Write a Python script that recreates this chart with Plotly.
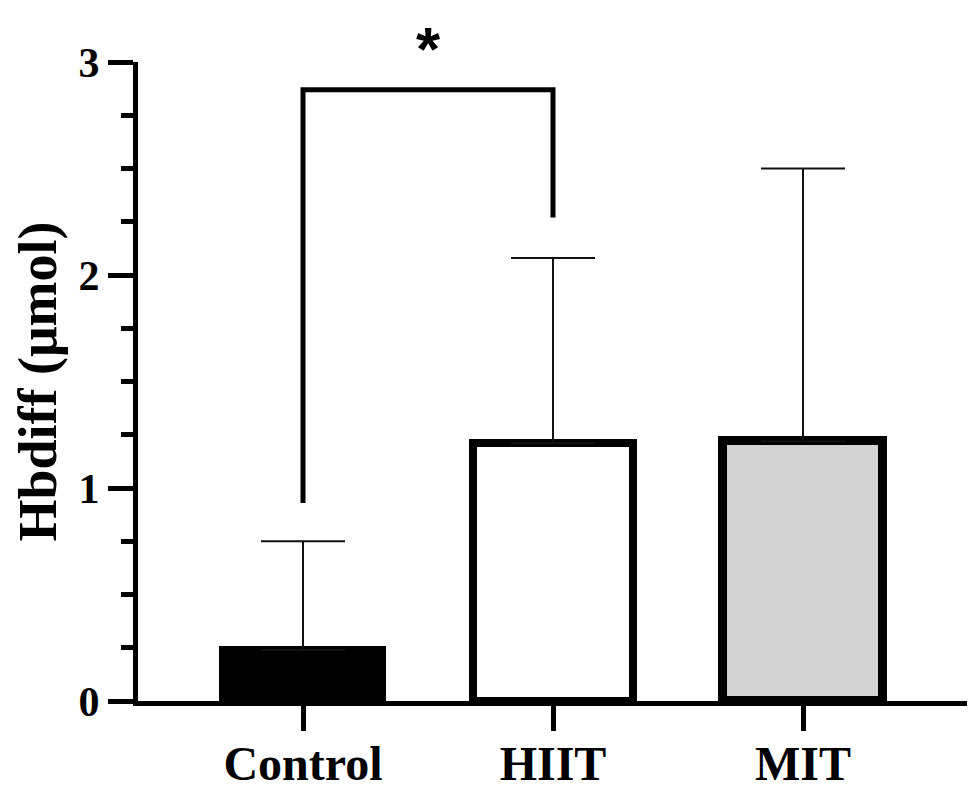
import plotly.graph_objects as go

# group means and upper SD (one-sided error bars)
groups = ["Control", "HIIT", "MIT"]
xpos = [0, 1, 2]
means = [0.24, 1.21, 1.22]
sd_up = [0.51, 0.87, 1.28]
fills = ["black", "white", "#d3d3d3"]
edge_w = [7, 8, 9]

# significance bracket Control vs HIIT
brk_x = [0, 0, 1, 1]
brk_y = [0.93, 2.87, 2.87, 2.27]
star_x = 0.5

serif = "Liberation Serif"

fig = go.Figure()

fig.add_trace(go.Bar(
    x=xpos, y=means,
    width=0.64,
    marker=dict(color=fills, line=dict(color="black", width=edge_w)),
    error_y=dict(type="data", array=sd_up, symmetric=False, arrayminus=[0, 0, 0],
                 color="#111111", thickness=2, width=42),
    showlegend=False,
))

fig.add_trace(go.Scatter(
    x=brk_x, y=brk_y, mode="lines",
    line=dict(color="black", width=5),
    cliponaxis=False, showlegend=False,
))

# star sits above the plot top, so anchor it to paper
fig.add_annotation(
    x=star_x, xref="x", y=1, yref="paper", yanchor="bottom", yshift=-23,
    text="*", showarrow=False,
    font=dict(family="Liberation Sans", size=62, color="black", weight="bold"),
)

# page body has an 8px margin, so the figure is a bit smaller than the window
fig.update_layout(
    width=967, height=779,
    margin=dict(l=130, r=2, t=54, b=86),
    plot_bgcolor="white", paper_bgcolor="white",
    bargap=0,
)

fig.update_xaxes(
    range=[-0.66, 2.68], automargin=False,
    tickmode="array", tickvals=xpos, ticktext=groups,
    ticks="outside", ticklen=25, tickwidth=5, tickcolor="black",
    ticklabelstandoff=-9,
    showline=True, linewidth=5, linecolor="black",
    showgrid=False, zeroline=False,
    tickfont=dict(family=serif, size=48, color="black", weight="bold"),
)

fig.update_yaxes(
    range=[0, 3], automargin=False,
    tickmode="array", tickvals=[0, 1, 2, 3],
    ticks="outside", ticklen=25, tickwidth=5, tickcolor="black",
    minor=dict(dtick=0.25, ticks="outside", ticklen=12, tickwidth=5, tickcolor="black"),
    showline=True, linewidth=5, linecolor="black",
    showgrid=False, zeroline=False,
    tickfont=dict(family=serif, size=42, color="black", weight="bold"),
    title=dict(text="Hbdiff (μmol)", standoff=27,
               font=dict(family=serif, size=54, color="black", weight="bold")),
)

fig.write_html("out.html")
